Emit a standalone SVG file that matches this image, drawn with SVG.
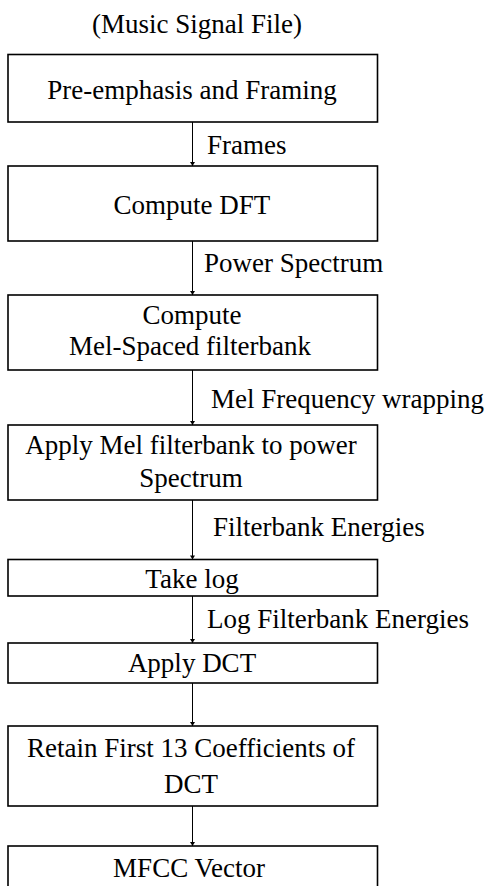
<svg xmlns="http://www.w3.org/2000/svg" width="490" height="886" viewBox="0 0 490 886">
<style>
.n text{text-anchor:middle}
.box{fill:#fff;stroke:#000;stroke-width:1.6}
.c line{stroke:#000;stroke-width:1}
</style>
<defs>
<marker id="ah" viewBox="0 0 8 10" refX="8" refY="5" markerWidth="4.5" markerHeight="5" orient="auto" markerUnits="userSpaceOnUse">
<path d="M0,0 L8,5 L0,10 z" fill="#000"/>
</marker>
</defs>
<g font-family="Liberation Serif, serif" font-size="27" fill="#000">
<text x="197" y="33" text-anchor="middle">(Music Signal File)</text>
<g class="n">
<g id="n1"><rect class="box" x="8" y="54.5" width="369.5" height="67.5"/><text x="192" y="99">Pre-emphasis and Framing</text></g>
<g id="n2"><rect class="box" x="8" y="166" width="369.5" height="75"/><text x="192" y="214">Compute DFT</text></g>
<g id="n3"><rect class="box" x="8" y="295" width="369.5" height="75"/><text x="192" y="324">Compute</text><text x="190" y="355">Mel-Spaced filterbank</text></g>
<g id="n4"><rect class="box" x="8" y="425" width="369.5" height="75"/><text x="191" y="454">Apply Mel filterbank to power</text><text x="191" y="487">Spectrum</text></g>
<g id="n5"><rect class="box" x="8" y="559.5" width="369.5" height="36.5"/><text x="192" y="588">Take log</text></g>
<g id="n6"><rect class="box" x="8" y="643" width="369.5" height="40"/><text x="192" y="672">Apply DCT</text></g>
<g id="n7"><rect class="box" x="8" y="726" width="369.5" height="80"/><text x="191" y="757">Retain First 13 Coefficients of</text><text x="191" y="793">DCT</text></g>
<g id="n8"><rect class="box" x="8" y="846" width="369.5" height="60"/><text x="189" y="877">MFCC Vector</text></g>
</g>
<g class="c">
<line x1="192.5" y1="122" x2="192.5" y2="166" marker-end="url(#ah)"/>
<line x1="192.5" y1="241" x2="192.5" y2="295" marker-end="url(#ah)"/>
<line x1="192.5" y1="370" x2="192.5" y2="425" marker-end="url(#ah)"/>
<line x1="192.5" y1="500" x2="192.5" y2="559.5" marker-end="url(#ah)"/>
<line x1="192.5" y1="596" x2="192.5" y2="643" marker-end="url(#ah)"/>
<line x1="192.5" y1="683" x2="192.5" y2="726" marker-end="url(#ah)"/>
<line x1="192.5" y1="806" x2="192.5" y2="846" marker-end="url(#ah)"/>
<text x="207" y="154">Frames</text>
<text x="204" y="272">Power Spectrum</text>
<text x="211" y="408">Mel Frequency wrapping</text>
<text x="213" y="536">Filterbank Energies</text>
<text x="207" y="628">Log Filterbank Energies</text>
</g>
</g>
</svg>
